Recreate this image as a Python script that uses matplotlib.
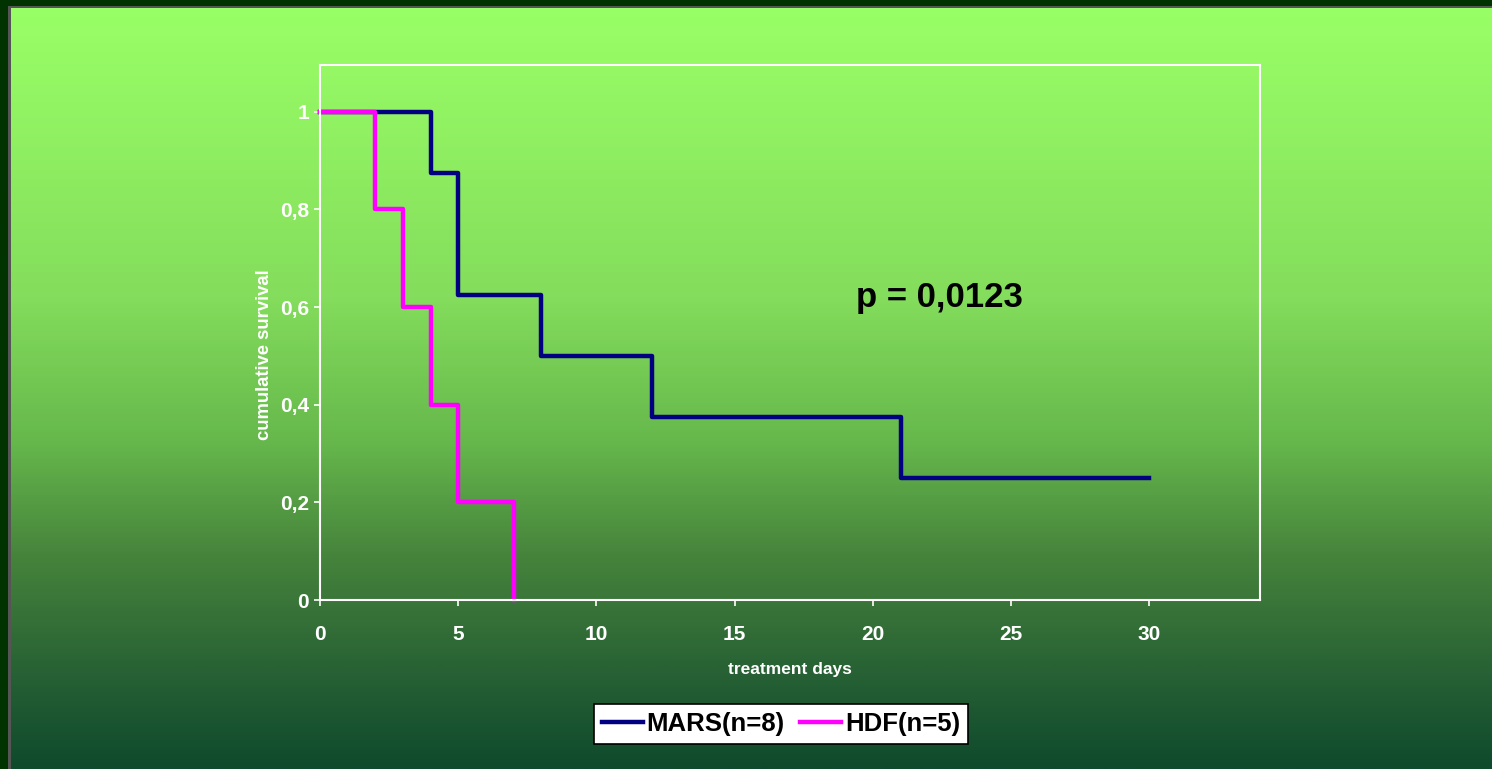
import numpy as np
import matplotlib.pyplot as plt
from matplotlib.patches import Rectangle
from matplotlib.colors import LinearSegmentedColormap

# Kaplan-Meier steps
mars_days = [0, 4, 5, 8, 12, 21, 30]
mars_surv = [1.0, 0.875, 0.625, 0.5, 0.375, 0.25, 0.25]
hdf_days = [0, 2, 3, 4, 5, 7]
hdf_surv = [1.0, 0.8, 0.6, 0.4, 0.2, 0.0]
x_ticks = [0, 5, 10, 15, 20, 25, 30]
y_ticks = [0, 0.2, 0.4, 0.6, 0.8, 1.0]
y_ticklabels = ['0', '0,2', '0,4', '0,6', '0,8', '1']

plt.rcParams['font.family'] = ['Liberation Sans', 'DejaVu Sans']
plt.rcParams['font.weight'] = 'bold'

W, H = 1492, 769
fig = plt.figure(figsize=(W / 100, H / 100), dpi=100)

# background: dark frame + vertical green gradient
bg = fig.add_axes([0, 0, 1, 1], zorder=0)
bg.set_xlim(0, W)
bg.set_ylim(H, 0)
bg.axis('off')
bg.add_patch(Rectangle((0, 0), W, H, facecolor='#003300', edgecolor='none'))
grad = LinearSegmentedColormap.from_list('g', [
    (0.0, '#99FF66'), (0.38, '#84DD5C'), (0.57, '#66B84C'),
    (0.72, '#46843C'), (0.88, '#266034'), (1.0, '#0F4A2D')])
bg.imshow(np.linspace(0, 1, 400).reshape(-1, 1), cmap=grad, aspect='auto',
          extent=(10, W, H, 7), zorder=1)
bg.add_patch(Rectangle((8, 6), 2.5, H, facecolor='#555555', edgecolor='none', zorder=2))
bg.add_patch(Rectangle((8, 6), W, 1.5, facecolor='#555555', edgecolor='none', zorder=2))

ax = fig.add_axes([320 / W, 1 - 600 / H, 940 / W, 535 / H], zorder=1)
ax.patch.set_alpha(0)
for sp in ax.spines.values():
    sp.set_color('white')
    sp.set_linewidth(1.5)

ax.step(mars_days, mars_surv, where='post', color='#000080', lw=3.2, label='MARS(n=8)', clip_on=False)
ax.step(hdf_days, hdf_surv, where='post', color='#FF00FF', lw=3.2, label='HDF(n=5)', clip_on=False)

ax.set_xlim(0, 34)
ax.set_ylim(0, 1.096)
ax.set_xticks(x_ticks)
ax.set_yticks(y_ticks)
ax.set_yticklabels(y_ticklabels)
ax.tick_params(colors='white', labelsize=15, length=4, width=1.2)
ax.tick_params(axis='x', pad=14)
ax.tick_params(axis='y', pad=4)
for lab in ax.get_xticklabels() + ax.get_yticklabels():
    lab.set_fontweight('bold')

ax.set_xlabel('treatment days', color='white', fontsize=12.5, fontweight='bold', labelpad=13)
ax.set_ylabel('cumulative survival', color='white', fontsize=13.3, fontweight='bold')
ax.yaxis.set_label_coords(-0.05, 0.458)

ax.text(19.4, 0.62, 'p = 0,0123', fontsize=25, fontweight='bold', color='black',
        ha='left', va='center')

leg = fig.legend(loc='center', bbox_to_anchor=(781 / W, 1 - 724 / H), ncol=2,
                 fontsize=18.5, frameon=True, fancybox=False, handlelength=1.6,
                 handletextpad=0.15, columnspacing=0.6, borderpad=0.3)
leg.get_frame().set_edgecolor('black')
leg.get_frame().set_linewidth(1.2)
leg.get_frame().set_alpha(1)
for t in leg.get_texts():
    t.set_fontweight('bold')

fig.savefig('out.png', dpi=100)
